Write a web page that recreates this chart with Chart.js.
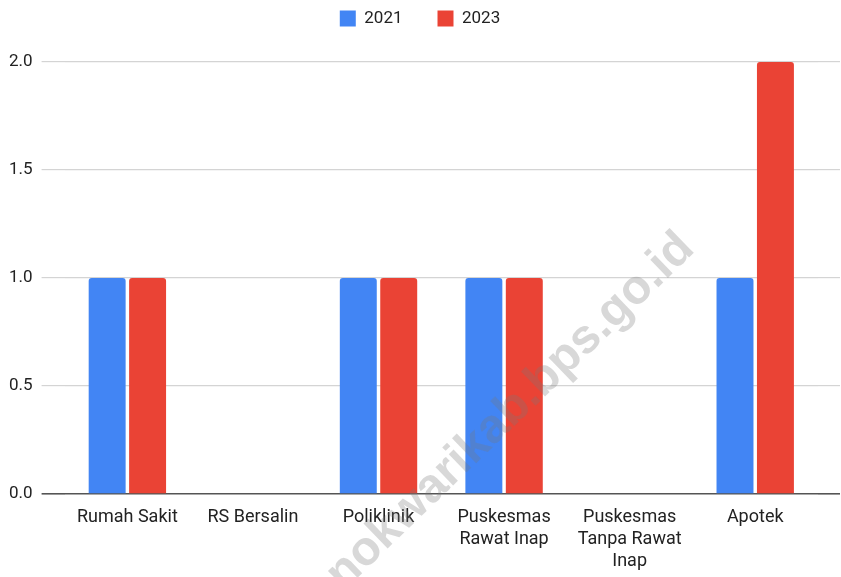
<!DOCTYPE html>
<html>
<head>
<meta charset="utf-8">
<script src="https://cdn.jsdelivr.net/npm/chart.js@4"></script>
<style>
  html, body { margin: 0; padding: 0; background: #fff; }
  .chart-container { position: relative; width: 841px; height: 577px; }
</style>
</head>
<body>
<div class="chart-container">
  <canvas id="chart"></canvas>
</div>
<script>
const categories = [
  'Rumah Sakit',
  'RS Bersalin',
  'Poliklinik',
  ['Puskesmas', 'Rawat Inap'],
  ['Puskesmas', 'Tanpa Rawat', 'Inap'],
  'Apotek'
];
const values2021 = [1, 0, 1, 1, 0, 1];
const values2023 = [1, 0, 1, 1, 0, 2];
const yTicks = [0, 0.5, 1, 1.5, 2];
const watermark = 'manokwarikab.bps.go.id';

// push the plot down below the legend
const legendMargin = {
    id: 'legendMargin',
    beforeInit(chart) {
        const fit = chart.legend.fit;
        chart.legend.fit = function () {
            fit.bind(chart.legend)();
            this.height = 87;
        };
    }
};

// faint diagonal site stamp
const stamp = {
    id: 'stamp',
    afterDatasetsDraw(chart) {
        const ctx = chart.ctx;
        ctx.save();
        ctx.translate(687, 241);
        ctx.rotate(-44 * Math.PI / 180);
        ctx.font = 'bold 48px "Liberation Sans", Arial, sans-serif';
        ctx.fillStyle = 'rgba(120,120,120,0.29)';
        ctx.textAlign = 'right';
        ctx.textBaseline = 'middle';
        ctx.fillText(watermark, 0, 0);
        ctx.restore();
    }
};

const font = { family: 'Roboto', size: 17 };

new Chart(document.getElementById('chart'), {
    type: 'bar',
    data: {
        labels: categories,
        datasets: [
            {
                label: '2021',
                data: values2021,
                backgroundColor: '#4285F4',
                borderRadius: { topLeft: 3, topRight: 3 },
                borderSkipped: 'start'
            },
            {
                label: '2023',
                data: values2023,
                backgroundColor: '#EA4335',
                borderRadius: { topLeft: 3, topRight: 3 },
                borderSkipped: 'start'
            }
        ]
    },
    options: {
        responsive: true,
        maintainAspectRatio: false,
        animation: false,
        categoryPercentage: 0.644,
        barPercentage: 0.914,
        layout: {
            padding: { left: 0, right: 1, top: -25, bottom: -7 }
        },
        plugins: {
            legend: {
                position: 'top',
                labels: {
                    font: font,
                    color: '#222',
                    boxWidth: 16,
                    boxHeight: 16,
                    padding: 35
                }
            },
            tooltip: { enabled: false }
        },
        scales: {
            x: {
                grid: { display: false, drawTicks: false },
                border: { display: false },
                ticks: {
                    font: { family: 'Roboto', size: 18, lineHeight: 1.222 },
                    color: '#222',
                    padding: 12,
                    maxRotation: 0,
                    autoSkip: false
                }
            },
            y: {
                min: 0,
                max: 2,
                afterBuildTicks(axis) {
                    axis.ticks = yTicks.map(v => ({ value: v }));
                },
                border: { display: false },
                grid: {
                    color: c => c.tick && c.tick.value === 0 ? '#555' : '#d4d4d4',
                    lineWidth: c => c.tick && c.tick.value === 0 ? 1.6 : 1.2,
                    tickLength: 23
                },
                ticks: {
                    font: font,
                    color: '#222',
                    padding: 9,
                    callback: v => v.toFixed(1)
                }
            },
            yRight: {
                position: 'right',
                min: 0,
                max: 2,
                afterBuildTicks(axis) {
                    axis.ticks = yTicks.map(v => ({ value: v }));
                },
                border: { display: false },
                grid: {
                    drawOnChartArea: false,
                    color: c => c.tick && c.tick.value === 0 ? '#555' : '#d4d4d4',
                    lineWidth: c => c.tick && c.tick.value === 0 ? 1.6 : 1.2,
                    tickLength: 22
                },
                ticks: { display: false }
            }
        }
    },
    plugins: [legendMargin, stamp]
});
</script>
</body>
</html>
